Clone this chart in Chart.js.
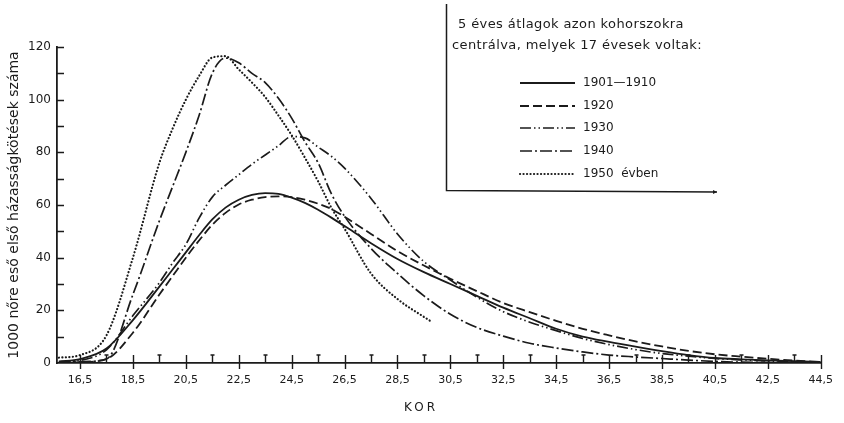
<!DOCTYPE html>
<html>
<head>
<meta charset="utf-8">
<script src="https://cdn.jsdelivr.net/npm/chart.js@4.4.1/dist/chart.umd.min.js"></script>
<style>
  html, body { margin: 0; padding: 0; background: #fff; }
  #wrap { width: 844px; height: 423px; }
</style>
</head>
<body>
<div id="wrap"><canvas id="korChart"></canvas></div>
<script>
// ages (years) shared by the cohorts; denser around the peaks
const ages = [15.7, 16.5, 17.5, 18.5, 19.5, 20, 20.5, 21, 21.5, 22, 22.5, 23, 23.5, 24, 24.5, 25, 25.5, 26, 26.5,
  27.5, 28.5, 29.5, 30.5, 31.5, 32.5, 33.5, 34.5, 35.5, 36.5, 37.5, 38.5, 39.5, 40.5, 41.5, 42.5, 43.5, 44.5];
// the 1950 curve stops just before 30
const ages1950 = [15.7, 16.5, 17.5, 18.5, 19.5, 20, 20.5, 21, 21.5, 22, 22.5, 23, 23.5, 24, 24.5, 25, 25.5, 26, 26.5,
  27.5, 28.5, 29.5, 29.8];

// first marriages per 1000 women
const c1901 = [0.5, 1.5, 5.5, 16.3, 29, 35.5, 42, 48.5, 54.5, 59, 62, 63.8, 64.5, 64.2, 62.8, 60.8, 58.2, 55.2, 52,
  45.5, 39.5, 34.5, 30, 25.5, 21, 17, 13, 10, 8, 6.2, 4.5, 3, 1.9, 1.4, 1, 0.7, 0.4];
const c1920 = [0, 0.3, 1.5, 11.5, 26, 33, 40, 46.5, 52.5, 57, 60.2, 62, 63, 63.3, 63, 62, 60.5, 58.5, 55.5,
  49, 42.5, 37, 32, 27.3, 22.8, 19.3, 16, 13, 10.5, 8.2, 6.3, 4.6, 3.3, 2.4, 1.6, 0.9, 0.4];
const c1930 = [0.5, 1, 5, 18, 30.5, 38, 45, 55, 63, 67.5, 71.5, 75.5, 79, 82.5, 86, 85.5, 82, 78.5, 74,
  62.5, 49, 38.5, 31.5, 25, 19.5, 15.5, 12.3, 9.3, 7, 5.1, 3.6, 2.6, 1.7, 1.2, 0.8, 0.5, 0.3];
const c1940 = [0.3, 0.5, 1.5, 26, 54, 67, 80, 94, 110, 115.8, 114, 110, 106.5, 100.5, 93, 84, 76, 64.3, 55.7,
  43.5, 34, 25.5, 18.5, 13.5, 10.2, 7.5, 5.7, 4.2, 3, 2.3, 1.7, 1.1, 0.6, 0.3, 0.2, 0.1, 0];
const c1950 = [2, 3, 10.5, 40, 76, 89, 100, 109, 116, 116.5, 111.5, 106.5, 101, 94, 86.5, 78, 69, 59, 51,
  34, 24.3, 17.5, 15.6];

const seriesLabels = ['1901—1910', '1920', '1930', '1940', '1950  évben'];
const legendHeader = ['5 éves átlagok azon kohorszokra', 'centrálva, melyek 17 évesek voltak:'];
const xTicks = [16.5, 18.5, 20.5, 22.5, 24.5, 26.5, 28.5, 30.5, 32.5, 34.5, 36.5, 38.5, 40.5, 42.5, 44.5];
const yTicks = [0, 20, 40, 60, 80, 100, 120];

const ink = '#1b1b1b';
const fontFamily = '"DejaVu Sans", "Liberation Sans", sans-serif';

const toPoints = (xs, ys) => xs.map((x, i) => ({ x: x, y: ys[i] }));

const lineStyle = (dash, width, cap) => ({
  borderColor: ink,
  borderWidth: width,
  borderDash: dash,
  borderCapStyle: cap || 'butt',
  pointRadius: 0,
  fill: false,
  cubicInterpolationMode: 'monotone'
});

const datasets = [
  Object.assign({ label: seriesLabels[0], data: toPoints(ages, c1901) }, lineStyle([], 1.8)),
  Object.assign({ label: seriesLabels[1], data: toPoints(ages, c1920) }, lineStyle([9, 4], 1.8)),
  Object.assign({ label: seriesLabels[2], data: toPoints(ages, c1930) }, lineStyle([11, 3, 1.5, 3, 1.5, 3], 1.7)),
  Object.assign({ label: seriesLabels[3], data: toPoints(ages, c1940) }, lineStyle([12, 3, 2, 3], 1.7)),
  Object.assign({ label: seriesLabels[4], data: toPoints(ages1950, c1950) }, lineStyle([0.1, 3.4], 2.2, 'round'))
];

// white page behind everything
const paper = {
  id: 'paper',
  beforeDraw(chart) {
    const ctx = chart.ctx;
    ctx.save();
    ctx.fillStyle = '#ffffff';
    ctx.fillRect(0, 0, chart.width, chart.height);
    ctx.restore();
  }
};

// inward tick marks like the drawn original
const axisMarks = {
  id: 'axisMarks',
  afterDraw(chart) {
    const { ctx, scales: { x, y } } = chart;
    ctx.save();
    ctx.strokeStyle = ink;
    ctx.lineWidth = 1.4;
    ctx.beginPath();
    for (let v = 10; v <= 120; v += 10) {
      const py = Math.round(y.getPixelForValue(v)) + 0.5;
      ctx.moveTo(x.left, py);
      ctx.lineTo(x.left + 7, py);
    }
    for (let a = 16.5; a <= 44.5; a += 1) {
      const px = Math.round(x.getPixelForValue(a)) + 0.5;
      const labelled = xTicks.includes(a);
      ctx.moveTo(px, y.bottom - 8);
      ctx.lineTo(px, y.bottom + (labelled ? 6 : 0));
      if (!labelled) {
        ctx.moveTo(px - 2, y.bottom - 8);
        ctx.lineTo(px + 2, y.bottom - 8);
      }
    }
    ctx.stroke();

    // axis name under the labels
    ctx.fillStyle = ink;
    ctx.font = '12px ' + fontFamily;
    ctx.textAlign = 'center';
    ctx.textBaseline = 'middle';
    if ('letterSpacing' in ctx) ctx.letterSpacing = '3px';
    ctx.fillText('KOR', 421, 408);
    ctx.restore();
  }
};

// the framed legend in the upper right
const legendBox = {
  id: 'legendBox',
  afterDraw(chart) {
    const ctx = chart.ctx;
    ctx.save();
    ctx.strokeStyle = ink;
    ctx.lineWidth = 1.5;
    ctx.beginPath();
    ctx.moveTo(446.5, 4);
    ctx.lineTo(446.5, 190.5);
    ctx.lineTo(717, 192);
    ctx.stroke();
    ctx.beginPath();
    ctx.moveTo(717, 192);
    ctx.lineTo(713, 190);
    ctx.lineTo(713, 194);
    ctx.closePath();
    ctx.fillStyle = ink;
    ctx.fill();

    ctx.textBaseline = 'middle';
    ctx.textAlign = 'left';
    ctx.font = '13px ' + fontFamily;
    if ('letterSpacing' in ctx) ctx.letterSpacing = '0.4px';
    ctx.fillText(legendHeader[0], 458, 25);
    ctx.fillText(legendHeader[1], 452, 46);
    if ('letterSpacing' in ctx) ctx.letterSpacing = '0px';
    ctx.font = '12px ' + fontFamily;

    const rows = [83, 106, 128, 151, 174];
    chart.data.datasets.forEach((ds, i) => {
      const yy = rows[i];
      ctx.beginPath();
      ctx.lineWidth = ds.borderWidth;
      ctx.lineCap = ds.borderCapStyle;
      ctx.setLineDash(ds.borderDash);
      ctx.moveTo(520, yy);
      ctx.lineTo(575, yy);
      ctx.stroke();
      ctx.setLineDash([]);
      ctx.fillText(ds.label, 583, yy);
    });
    ctx.restore();
  }
};

const ctx = document.getElementById('korChart').getContext('2d');
const korChart = new Chart(ctx, {
  type: 'line',
  data: { datasets: datasets },
  plugins: [paper, axisMarks, legendBox],
  options: {
    responsive: true,
    maintainAspectRatio: false,
    animation: false,
    layout: { padding: { top: 47, right: 22, left: 0, bottom: 0 } },
    plugins: {
      legend: { display: false },
      tooltip: { enabled: false }
    },
    scales: {
      x: {
        type: 'linear',
        min: 15.63,
        max: 44.5,
        afterBuildTicks: (scale) => { scale.ticks = xTicks.map(v => ({ value: v })); },
        afterFit: (scale) => { scale.height = 60; },
        grid: { drawOnChartArea: false, drawTicks: false },
        border: { display: true, color: ink, width: 1.8 },
        ticks: {
          color: ink,
          padding: 11,
          maxRotation: 0,
          autoSkip: false,
          font: { family: fontFamily, size: 11 },
          callback: (v) => String(v).replace('.', ',')
        }
      },
      y: {
        min: 0,
        max: 120,
        afterBuildTicks: (scale) => { scale.ticks = yTicks.map(v => ({ value: v })); },
        afterFit: (scale) => { scale.width = 57; },
        grid: { drawOnChartArea: false, drawTicks: false },
        border: { display: true, color: ink, width: 1.8 },
        ticks: {
          color: ink,
          padding: 6,
          font: { family: fontFamily, size: 12 }
        },
        title: {
          display: true,
          text: '1000 nőre eső első házasságkötések száma',
          color: ink,
          padding: { top: 6, bottom: 0 },
          font: { family: fontFamily, size: 14 }
        }
      }
    }
  }
});
</script>
</body>
</html>
